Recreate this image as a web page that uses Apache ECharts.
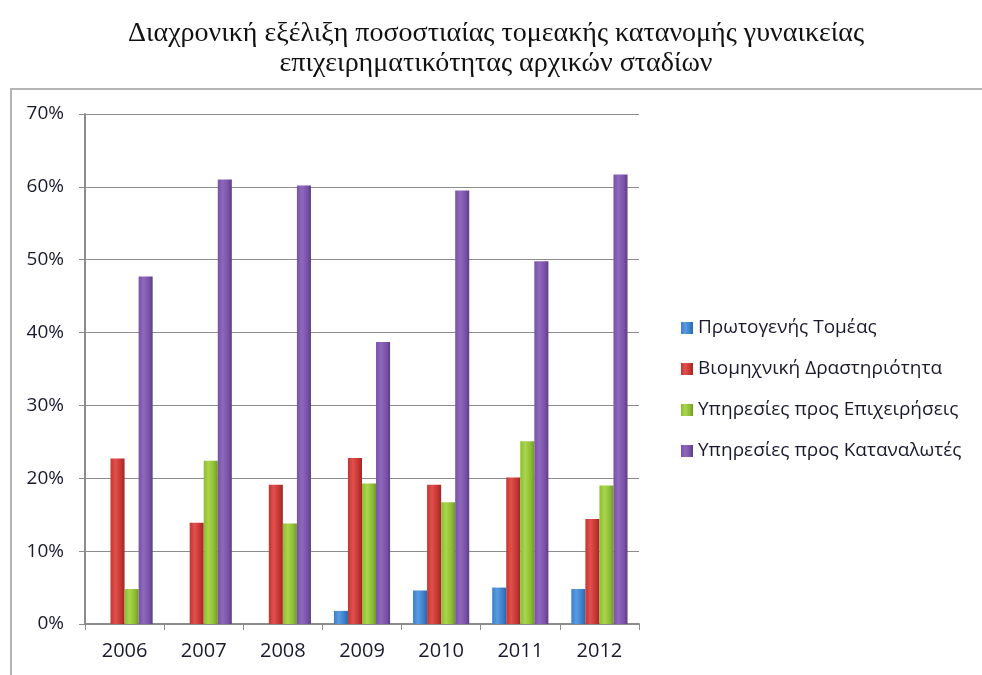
<!DOCTYPE html>
<html>
<head>
<meta charset="utf-8">
<script src="https://cdn.jsdelivr.net/npm/echarts@6/dist/echarts.min.js"></script>
<style>
  html, body { margin: 0; padding: 0; background: #fff; }
  #main { width: 982px; height: 675px; }
</style>
</head>
<body>
<div id="main"></div>
<script>
var years = ['2006', '2007', '2008', '2009', '2010', '2011', '2012'];
var seriesNames = ['Πρωτογενής Τομέας', 'Βιομηχνική Δραστηριότητα', 'Υπηρεσίες προς Επιχειρήσεις', 'Υπηρεσίες προς Καταναλωτές'];
var primary = [0, 0, 0, 1.8, 4.6, 5.0, 4.8];
var industry = [22.7, 13.9, 19.1, 22.8, 19.1, 20.1, 14.4];
var business = [4.8, 22.4, 13.8, 19.3, 16.7, 25.1, 19.0];
var consumer = [47.7, 61.0, 60.2, 38.7, 59.5, 49.8, 61.7];
var yTicks = [0, 10, 20, 30, 40, 50, 60, 70];

// χρώματα: σκούρο / φωτεινό / βασικό
var palette = [
  ['#2a66aa', '#5b9be0', '#3a7fcc'],
  ['#a12624', '#e0504c', '#c43431'],
  ['#6f9a22', '#a9d64a', '#8dbb35'],
  ['#5d3c86', '#8e68bd', '#7852a6']
];

function barColor(i) {
  var c = palette[i];
  return new echarts.graphic.LinearGradient(0, 0, 1, 0, [
    { offset: 0, color: c[2] },
    { offset: 0.35, color: c[1] },
    { offset: 0.75, color: c[2] },
    { offset: 1, color: c[0] }
  ]);
}

var chart = echarts.init(document.getElementById('main'));

var data = [primary, industry, business, consumer];
var series = data.map(function (vals, i) {
  return {
    name: seriesNames[i],
    type: 'bar',
    data: vals,
    barGap: '0%',
    barCategoryGap: '29%',
    itemStyle: { color: barColor(i) }
  };
});

chart.setOption({
  backgroundColor: '#ffffff',
  animation: false,
  color: palette.map(function (c) { return c[2]; }),
  title: {
    text: 'Διαχρονική εξέλιξη ποσοστιαίας τομεακής κατανομής γυναικείας\nεπιχειρηματικότητας αρχικών σταδίων',
    left: 491,
    top: 14,
    textAlign: 'center',
    textStyle: {
      fontFamily: 'Liberation Serif',
      fontWeight: 'normal',
      fontSize: 28,
      lineHeight: 30,
      color: '#111'
    }
  },
  graphic: [{
    type: 'rect',
    shape: { x: 11, y: 89, width: 1000, height: 620 },
    style: { fill: 'none', stroke: '#b4b4b4', lineWidth: 2 },
    silent: true
  }],
  legend: {
    orient: 'vertical',
    left: 676,
    top: 313,
    itemWidth: 12,
    itemHeight: 12,
    itemGap: 21,
    icon: 'rect',
    data: seriesNames,
    textStyle: { fontFamily: 'Open Sans', fontSize: 19, lineHeight: 20, color: '#1a1a2e' }
  },
  grid: { left: 85, right: 343, top: 114, bottom: 51, containLabel: false },
  xAxis: {
    type: 'category',
    data: years,
    axisLine: { lineStyle: { color: '#8c8c8c', width: 2 } },
    axisTick: { show: true, length: 6, lineStyle: { color: '#8c8c8c' } },
    axisLabel: { fontFamily: 'Open Sans', fontSize: 20, color: '#1a1a2e', margin: 17 }
  },
  yAxis: {
    type: 'value',
    min: yTicks[0],
    max: yTicks[yTicks.length - 1],
    interval: 10,
    axisLine: { show: true, lineStyle: { color: '#8c8c8c', width: 2 } },
    axisTick: { show: true, length: 6, lineStyle: { color: '#8c8c8c' } },
    splitLine: { lineStyle: { color: '#8c8c8c', width: 1 } },
    axisLabel: {
      fontFamily: 'Open Sans', fontSize: 19, color: '#1a1a2e', margin: 21,
      formatter: function (v) { return v + '%'; }
    }
  },
  series: series
});
</script>
</body>
</html>
